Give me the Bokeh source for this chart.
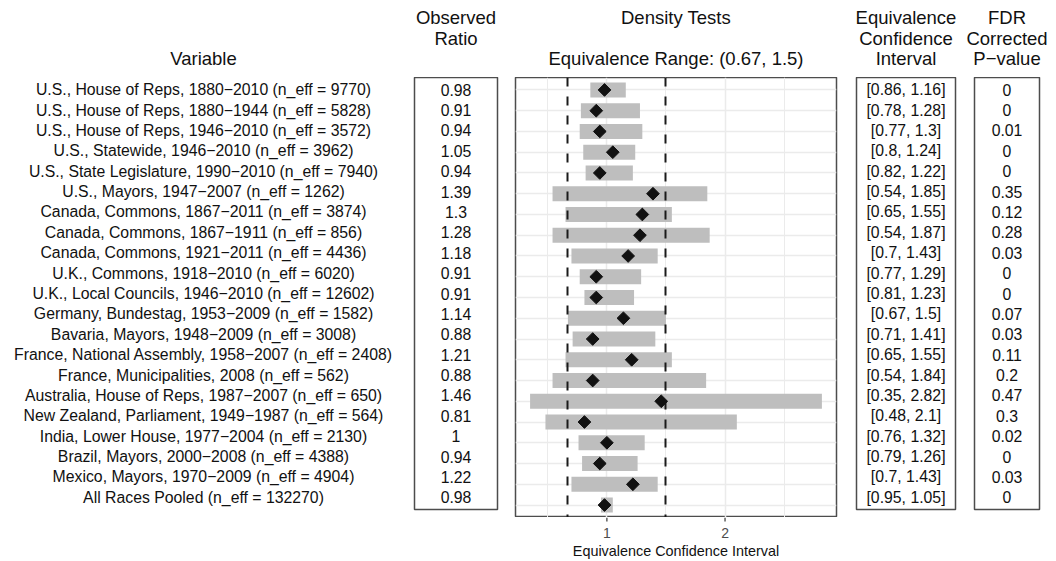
import numpy as np
from bokeh.plotting import figure
from bokeh.layouts import row, column
from bokeh.models import Range1d
from bokeh.core.properties import value
from bokeh.embed import file_html
from bokeh.resources import INLINE

# ---------------- data ----------------
variables = [
    "U.S., House of Reps, 1880\u22122010",
    "U.S., House of Reps, 1880\u22121944",
    "U.S., House of Reps, 1946\u22122010",
    "U.S., Statewide, 1946\u22122010",
    "U.S., State Legislature, 1990\u22122010",
    "U.S., Mayors, 1947\u22122007",
    "Canada, Commons, 1867\u22122011",
    "Canada, Commons, 1867\u22121911",
    "Canada, Commons, 1921\u22122011",
    "U.K., Commons, 1918\u22122010",
    "U.K., Local Councils, 1946\u22122010",
    "Germany, Bundestag, 1953\u22122009",
    "Bavaria, Mayors, 1948\u22122009",
    "France, National Assembly, 1958\u22122007",
    "France, Municipalities, 2008",
    "Australia, House of Reps, 1987\u22122007",
    "New Zealand, Parliament, 1949\u22121987",
    "India, Lower House, 1977\u22122004",
    "Brazil, Mayors, 2000\u22122008",
    "Mexico, Mayors, 1970\u22122009",
    "All Races Pooled",
]
n_eff = [9770, 5828, 3572, 3962, 7940, 1262, 3874, 856, 4436, 6020, 12602,
         1582, 3008, 2408, 562, 650, 564, 2130, 4388, 4904, 132270]
observed = [0.98, 0.91, 0.94, 1.05, 0.94, 1.39, 1.3, 1.28, 1.18, 0.91, 0.91,
            1.14, 0.88, 1.21, 0.88, 1.46, 0.81, 1, 0.94, 1.22, 0.98]
ci_lo = [0.86, 0.78, 0.77, 0.8, 0.82, 0.54, 0.65, 0.54, 0.7, 0.77, 0.81,
         0.67, 0.71, 0.65, 0.54, 0.35, 0.48, 0.76, 0.79, 0.7, 0.95]
ci_hi = [1.16, 1.28, 1.3, 1.24, 1.22, 1.85, 1.55, 1.87, 1.43, 1.29, 1.23,
         1.5, 1.41, 1.55, 1.84, 2.82, 2.1, 1.32, 1.26, 1.43, 1.05]
p_values = [0, 0, 0.01, 0, 0, 0.35, 0.12, 0.28, 0.03, 0, 0,
            0.07, 0.03, 0.11, 0.2, 0.47, 0.3, 0.02, 0, 0.03, 0]
equiv_range = [0.67, 1.5]
x_ticks = [1, 2]
x_minor_ticks = [0.5, 1.5, 2.5]
x_title = "Equivalence Confidence Interval"

# column headers: (text, header line index)
hdr_variable = [("Variable", 2)]
hdr_observed = [("Observed", 0), ("Ratio", 1)]
hdr_density = [("Density Tests", 0),
               (f"Equivalence Range: ({equiv_range[0]:g}, {equiv_range[1]:g})", 2)]
hdr_ci = [("Equivalence", 0), ("Confidence", 1), ("Interval", 2)]
hdr_p = [("FDR", 0), ("Corrected", 1), ("P\u2212value", 2)]

# ---------------- derived ----------------
labels = [f"{v} (n_eff = {n})" for v, n in zip(variables, n_eff)]
obs_text = [f"{v:g}" for v in observed]
ci_text = [f"[{a:g}, {b:g}]" for a, b in zip(ci_lo, ci_hi)]
p_text = [f"{v:g}" for v in p_values]
tick_text = [f"{t:g}" for t in x_ticks]
n = len(labels)
rows_idx = list(range(n))

FONT = "Liberation Sans"
HEAD_H = 77
BODY_H = 561 - HEAD_H
TABLE_FH = 432
DENS_FH = 440
AXIS_H = BODY_H - DENS_FH
ROW_FS = "15.8px"
HEAD_FS = "18.5px"
BORDER = "#4d4d4d"
GRID = "#ebebeb"
Y_TOP = -0.6
Y_BOT = n - 0.4
LINE_PX = 20.5
FIRST_LINE_PX = 17


def clean(p):
    p.background_fill_color = "white"
    p.border_fill_color = "white"
    p.xgrid.visible = False
    p.ygrid.visible = False


def plain_fig(width, height, xr, yr, left=0, right=0, bottom=0):
    p = figure(width=width, height=height, x_range=xr, y_range=yr,
               output_backend="svg", toolbar_location=None,
               x_axis_location=None, y_axis_location=None,
               min_border_left=left, min_border_right=right,
               min_border_top=0, min_border_bottom=bottom)
    clean(p)
    p.outline_line_color = None
    return p


def header_fig(width, lines):
    p = plain_fig(width, HEAD_H, Range1d(0, 1),
                  Range1d((HEAD_H - FIRST_LINE_PX) / LINE_PX, -FIRST_LINE_PX / LINE_PX))
    p.text(x=[0.5] * len(lines), y=[l[1] for l in lines], text=[l[0] for l in lines],
           text_align="center", text_baseline="middle", text_font=value(FONT),
           text_font_size=HEAD_FS, text_color="#111111")
    return p


def table_fig(width, left, right, texts, outline=True):
    p = plain_fig(width, BODY_H, Range1d(0, 1), Range1d(Y_BOT, Y_TOP),
                  left, right, BODY_H - TABLE_FH)
    if outline:
        p.outline_line_color = BORDER
        p.outline_line_width = 1.5
    p.text(x=[0.5] * n, y=rows_idx, text=texts, text_align="center",
           text_baseline="middle", text_font=value(FONT), text_font_size=ROW_FS,
           text_color="#111111")
    return p


# header row
h_lab = header_fig(406, hdr_variable)
h_obs = header_fig(99, hdr_observed)
h_d = header_fig(341, hdr_density)
h_ci = header_fig(119, hdr_ci)
h_p = header_fig(83, hdr_p)

# body row tables
f_lab = table_fig(406, 0, 0, labels, outline=False)
f_obs = table_fig(100, 8, 9, obs_text)
f_ci = table_fig(118, 10, 9, ci_text)
f_p = table_fig(92, 10, 17, p_text)

# density panel
span = max(ci_hi) - min(ci_lo)
x_rng = Range1d(min(ci_lo) - 0.05 * span, max(ci_hi) + 0.05 * span)
f_d = plain_fig(340, DENS_FH, x_rng, Range1d(Y_BOT, Y_TOP), 9, 10, 0)
f_d.outline_line_color = BORDER
f_d.outline_line_width = 1.5

f_d.vspan(x=x_minor_ticks, line_color=GRID, line_width=1.0)
f_d.vspan(x=x_ticks, line_color=GRID, line_width=1.5)
f_d.hspan(y=rows_idx, line_color=GRID, line_width=1.5)
f_d.hbar(y=rows_idx, left=ci_lo, right=ci_hi, height=0.72,
         fill_color="#bebebe", line_color=None)
f_d.vspan(x=equiv_range, line_color="#1a1a1a", line_width=2, line_dash="9 10")
f_d.scatter(x=observed, y=rows_idx, marker="square", angle=np.pi / 4, size=9,
            fill_color="#111111", line_color="#111111", line_width=1)

# x axis strip (ticks, tick labels, title) sharing the density x scale
f_ax = plain_fig(340, AXIS_H, x_rng, Range1d(AXIS_H, 0), 9, 10, 0)
f_ax.segment(x0=x_ticks, y0=[0] * len(x_ticks), x1=x_ticks, y1=[4] * len(x_ticks),
             line_color="#333333", line_width=1.2)
f_ax.text(x=x_ticks, y=[15] * len(x_ticks), text=tick_text, text_align="center",
          text_baseline="middle", text_font=value(FONT), text_font_size="14px",
          text_color="#4d4d4d")
f_ax.text(x=[(x_rng.start + x_rng.end) / 2], y=[33], text=[x_title],
          text_align="center", text_baseline="middle", text_font=value(FONT),
          text_font_size="14.4px", text_color="#111111")

layout = column(row(h_lab, h_obs, h_d, h_ci, h_p),
                row(f_lab, f_obs, column(f_d, f_ax), f_ci, f_p))
open("out.html", "w").write(file_html(layout, INLINE))
